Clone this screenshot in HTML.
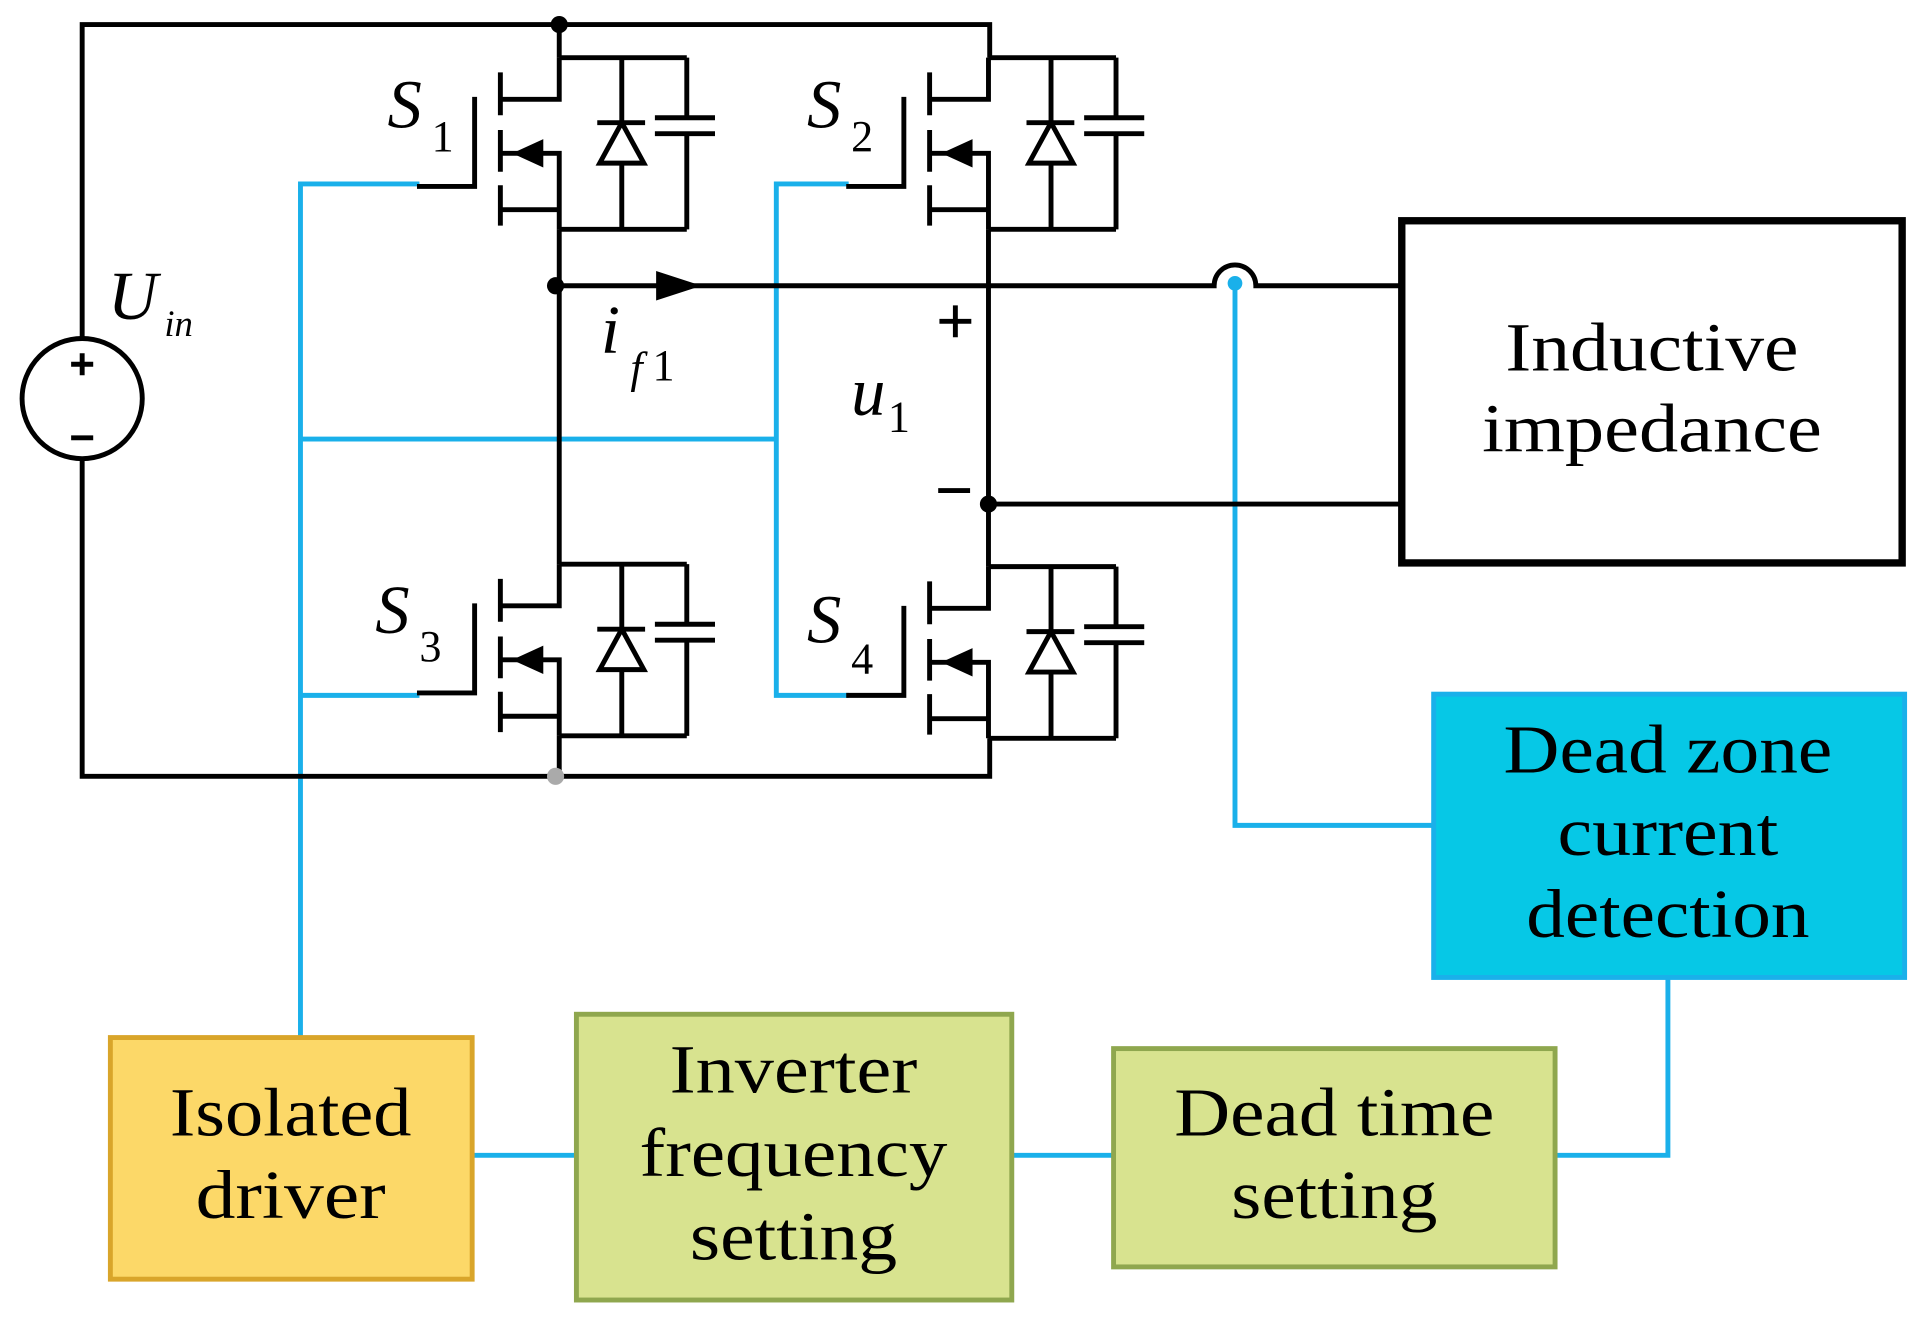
<!DOCTYPE html>
<html><head><meta charset="utf-8"><style>
html,body{margin:0;padding:0;background:#fff;}
svg{display:block;}
text{font-family:"Liberation Serif",serif;fill:#000;}
</style></head><body>
<svg width="1923" height="1327" viewBox="0 0 1568 1082" preserveAspectRatio="none" xmlns="http://www.w3.org/2000/svg">
<defs>
<g id="sw" stroke="#000" stroke-width="4" fill="none">
  <path d="M0,0 H104 M0,0 V34 H-48 M-48,12 V47 M-48,59 V93 M-48,104 V137 M-69,32 V105 H-116 M-48,78 H0 V140 M-48,124 H0 M0,140 H104 M51,0 V140 M31,53 H70 M104,0 V49 M104,62 V140 M78,49 H127 M78,62 H127"/>
  <path d="M51,53 L33,86 H69 Z" fill="#fff"/>
  <path d="M-36,78 L-14,68 V88 Z" fill="#000" stroke-width="2"/>
</g>
</defs>
<rect width="1568" height="1082" fill="#fff"/>
<g stroke="#1ab0ea" stroke-width="4" fill="none">
  <path d="M245,845 V150 H342 M245,358 H633 M245,567 H342 M692,150 H633 V567 H692"/>
  <path d="M1007,231 V673 H1168"/>
  <path d="M385,942 H470 M825,942 H908 M1268,942 H1360 V797"/>
</g>
<g stroke="#000" stroke-width="4" fill="none">
  <path d="M67,275 V20 H807 V47 M456,20 V47 M67,375 V633 H807 V602 M456,600 V633"/>
  <path d="M456,187 V460 M806,187 V462"/>
  <path d="M456,233 H990 A17,17 0 0 1 1024,233 H1143"/>
  <path d="M806,411 H1143"/>
  <circle cx="67" cy="325" r="49"/>
  <path d="M58,297 H76 M67,288 V306 M58,357 H76"/>
  <path d="M766,262 H792 M779,249 V275 M765,400 H791"/>
</g>
<use href="#sw" x="456" y="47"/>
<use href="#sw" x="806" y="47"/>
<use href="#sw" x="456" y="460"/>
<use href="#sw" x="806" y="462"/>
<path d="M535,221 L572,233 L535,245 Z" fill="#000"/>
<circle cx="456" cy="20" r="7" fill="#000"/>
<circle cx="453" cy="233" r="7" fill="#000"/>
<circle cx="806" cy="411" r="7" fill="#000"/>
<circle cx="453" cy="633" r="7" fill="#aaa"/>
<circle cx="1007" cy="231" r="6" fill="#1ab0ea"/>
<g font-style="italic" font-size="56">
<text x="316" y="104">S</text>
<text x="658" y="104">S</text>
<text x="306" y="516">S</text>
<text x="658" y="524">S</text>
<text x="88" y="260">U</text>
<text x="490" y="288">i</text>
<text x="514" y="312" font-size="36">f</text>
<text x="694" y="338">u</text>
<text x="134" y="274" font-size="30">in</text>
</g>
<g font-size="36">
<text x="352" y="123">1</text>
<text x="694" y="123">2</text>
<text x="342" y="539">3</text>
<text x="694" y="549">4</text>
<text x="532" y="310">1</text>
<text x="724" y="352">1</text>
</g>
<rect x="1143" y="180" width="408" height="279" fill="#fff" stroke="#000" stroke-width="6"/>
<g font-size="56" text-anchor="middle" lengthAdjust="spacingAndGlyphs">
<text x="1347" y="302" textLength="239" lengthAdjust="spacingAndGlyphs">Inductive</text>
<text x="1347" y="368" textLength="277" lengthAdjust="spacingAndGlyphs">impedance</text>
</g>
<rect x="1169" y="566" width="384" height="231" fill="#06c8e6" stroke="#1ab0ea" stroke-width="4"/>
<g font-size="56" text-anchor="middle">
<text x="1360" y="630" textLength="268" lengthAdjust="spacingAndGlyphs">Dead zone</text>
<text x="1360" y="697" textLength="180" lengthAdjust="spacingAndGlyphs">current</text>
<text x="1360" y="764" textLength="231" lengthAdjust="spacingAndGlyphs">detection</text>
</g>
<rect x="90" y="846" width="295" height="197" fill="#fcd868" stroke="#d9a52a" stroke-width="4"/>
<g font-size="56" text-anchor="middle">
<text x="237" y="926" textLength="197" lengthAdjust="spacingAndGlyphs">Isolated</text>
<text x="237" y="993" textLength="155" lengthAdjust="spacingAndGlyphs">driver</text>
</g>
<rect x="470" y="827" width="355" height="233" fill="#d8e38f" stroke="#8fa74e" stroke-width="4"/>
<g font-size="56" text-anchor="middle">
<text x="647" y="891" textLength="202" lengthAdjust="spacingAndGlyphs">Inverter</text>
<text x="647" y="959" textLength="251" lengthAdjust="spacingAndGlyphs">frequency</text>
<text x="647" y="1027" textLength="169" lengthAdjust="spacingAndGlyphs">setting</text>
</g>
<rect x="908" y="855" width="360" height="178" fill="#d8e38f" stroke="#8fa74e" stroke-width="4"/>
<g font-size="56" text-anchor="middle">
<text x="1088" y="926" textLength="261" lengthAdjust="spacingAndGlyphs">Dead time</text>
<text x="1088" y="993" textLength="168" lengthAdjust="spacingAndGlyphs">setting</text>
</g>
</svg>
</body></html>
